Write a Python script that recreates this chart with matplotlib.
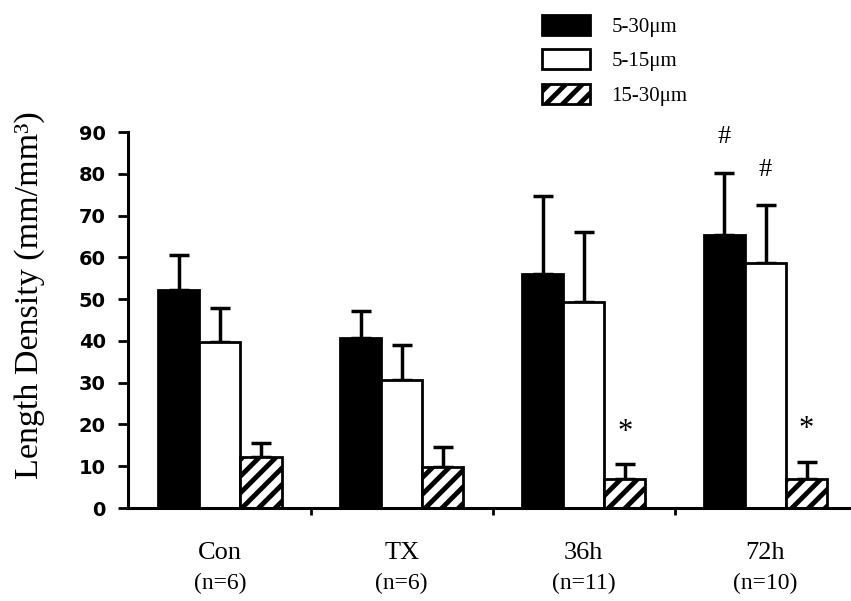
import matplotlib
matplotlib.use('Agg')
import matplotlib.pyplot as plt
import numpy as np
from matplotlib.patches import Patch

groups = ['Con', 'TX', '36h', '72h']
n_labels = ['(n=6)', '(n=6)', '(n=11)', '(n=10)']
series = ['5-30μm', '5-15μm', '15-30μm']

mean_5_30 = [52.2, 40.6, 55.9, 65.3]
err_5_30 = [8.3, 6.6, 18.8, 15.0]
mean_5_15 = [39.8, 30.6, 49.4, 58.6]
err_5_15 = [8.0, 8.4, 16.7, 13.9]
mean_15_30 = [12.3, 9.9, 6.9, 6.9]
err_15_30 = [3.3, 4.8, 3.6, 4.2]

# significance marks: (group index, series index, symbol)
marks = [(2, 2, '*'), (3, 2, '*'), (3, 0, '#'), (3, 1, '#')]

plt.rcParams['hatch.linewidth'] = 3.5
plt.rcParams['hatch.color'] = 'black'

fig = plt.figure(figsize=(8.51, 6.01), dpi=100)
ax = fig.add_axes([128/851, 1-508/601, 723/851, 376/601])

x = np.arange(len(groups))
w = 0.226
means = [mean_5_30, mean_5_15, mean_15_30]
errs = [err_5_30, err_5_15, err_15_30]
faces = ['black', 'white', 'white']
hatches = [None, None, '//']

for i in range(3):
    xi = x + (i - 1) * w
    ax.bar(xi, means[i], w, color=faces[i], edgecolor='black', linewidth=2,
           hatch=hatches[i], zorder=2)
    ax.errorbar(xi, means[i], yerr=[np.zeros(4), errs[i]], fmt='none',
                ecolor='black', elinewidth=2.5, capsize=7, capthick=2.5, zorder=1)

# significance symbols above the error bars
for g, s, sym in marks:
    top = means[s][g] + errs[s][g]
    if sym == '*':
        ax.text(x[g] + (s - 1) * w, top + 7.6, sym, ha='center', va='center',
                fontsize=22, family='Liberation Serif')
    else:
        ax.text(x[g] + (s - 1) * w, top + 8.4, sym, ha='center', va='center',
                fontsize=19, family='Liberation Serif')

ax.set_ylim(0, 90)
ax.set_xlim(-0.505, 3.47)
ax.set_yticks(np.arange(0, 91, 10))
ax.set_yticklabels([str(v) for v in range(0, 91, 10)], fontsize=14,
                   fontweight='bold', family='DejaVu Sans')
ax.set_xticks(x[:-1] + 0.5)
ax.set_xticklabels([])
ax.tick_params(axis='y', direction='out', length=7, width=2, pad=9)
ax.tick_params(axis='x', direction='out', length=5, width=2)

for g in range(4):
    ax.text(x[g], -10.7, groups[g], ha='center', va='center', fontsize=19,
            family='Liberation Serif')
    ax.text(x[g], -18.0, n_labels[g], ha='center', va='center', fontsize=17,
            family='Liberation Serif')

ax.spines['top'].set_visible(False)
ax.spines['right'].set_visible(False)
ax.spines['left'].set_linewidth(2.2)
ax.spines['bottom'].set_linewidth(2.2)

fig.text(30/851, 1-295/601, 'Length Density (mm/mm³)', rotation=90,
         ha='center', va='center', fontsize=24.5, family='Liberation Serif')

handles = [Patch(facecolor='black', edgecolor='black', linewidth=2),
           Patch(facecolor='white', edgecolor='black', linewidth=2),
           Patch(facecolor='white', edgecolor='black', linewidth=2, hatch='//')]
fig.legend(handles, series, loc='upper left', bbox_to_anchor=(523/851, 1.0 + 4/601),
           frameon=False, prop={'family': 'Liberation Serif', 'size': 15},
           handlelength=2.3, handleheight=1.1, labelspacing=0.6, handletextpad=1.05)

fig.savefig('out.png', dpi=100)
